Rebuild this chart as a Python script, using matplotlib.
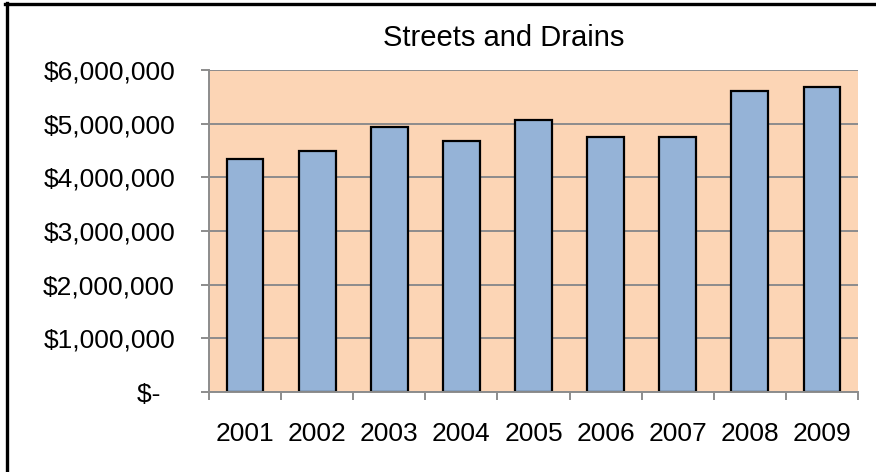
import matplotlib
matplotlib.use("Agg")
import matplotlib.pyplot as plt
from matplotlib.lines import Line2D
from matplotlib.ticker import FixedLocator

plt.rcParams['font.family'] = ['Liberation Sans', 'DejaVu Sans']

years = ["2001", "2002", "2003", "2004", "2005", "2006", "2007", "2008", "2009"]
values = [4350000, 4490000, 4930000, 4670000, 5070000, 4750000, 4750000, 5600000, 5680000]
y_ticks = [0, 1000000, 2000000, 3000000, 4000000, 5000000, 6000000]
y_labels = ["$-  ", "$1,000,000", "$2,000,000", "$3,000,000", "$4,000,000", "$5,000,000", "$6,000,000"]
title = "Streets and Drains"

W, H = 876, 472
fig = plt.figure(figsize=(W / 100, H / 100), dpi=100)
fig.patch.set_facecolor("white")
ax = fig.add_axes([209 / W, 1 - 392 / H, (858 - 209) / W, (392 - 70) / H])
ax.set_facecolor("#FCD5B5")

x = list(range(len(years)))
ax.bar(x, values, width=0.51, color="#95B3D7", edgecolor="black", linewidth=1.6, zorder=3)

ax.set_xlim(-0.5, len(years) - 0.5)
ax.set_ylim(0, 6000000)
ax.set_yticks(y_ticks)
ax.set_yticklabels(y_labels)
ax.set_xticks(x)
ax.set_xticklabels(years)
ax.xaxis.set_minor_locator(FixedLocator([i - 0.5 for i in range(len(years) + 1)]))

grid_c = "#8C8C8C"
ax.grid(axis="y", color=grid_c, linewidth=1.4, zorder=1)
ax.set_axisbelow(True)
for s in ["top", "right"]:
    ax.spines[s].set_visible(False)
for s in ["left", "bottom"]:
    ax.spines[s].set_color(grid_c)
    ax.spines[s].set_linewidth(1.4)
    ax.spines[s].set_zorder(4)

ax.tick_params(axis="y", which="major", length=6, width=1.4, color=grid_c,
               pad=18.5, labelsize=19, labelcolor="black")
ax.tick_params(axis="x", which="major", length=0, pad=21.5, labelsize=19, labelcolor="black")
ax.tick_params(axis="x", which="minor", length=6, width=1.4, color=grid_c)

fig.text(504 / W, 1 - 38 / H, title, ha="center", va="center", fontsize=21, color="black")

fig.add_artist(Line2D([7 / W, 7 / W], [0, 1 - 3 / H], color="black", linewidth=2.4,
                      transform=fig.transFigure))
fig.add_artist(Line2D([5 / W, 1], [1 - 4 / H, 1 - 4 / H], color="black", linewidth=2.4,
                      transform=fig.transFigure))

fig.savefig("out.png", dpi=100)
